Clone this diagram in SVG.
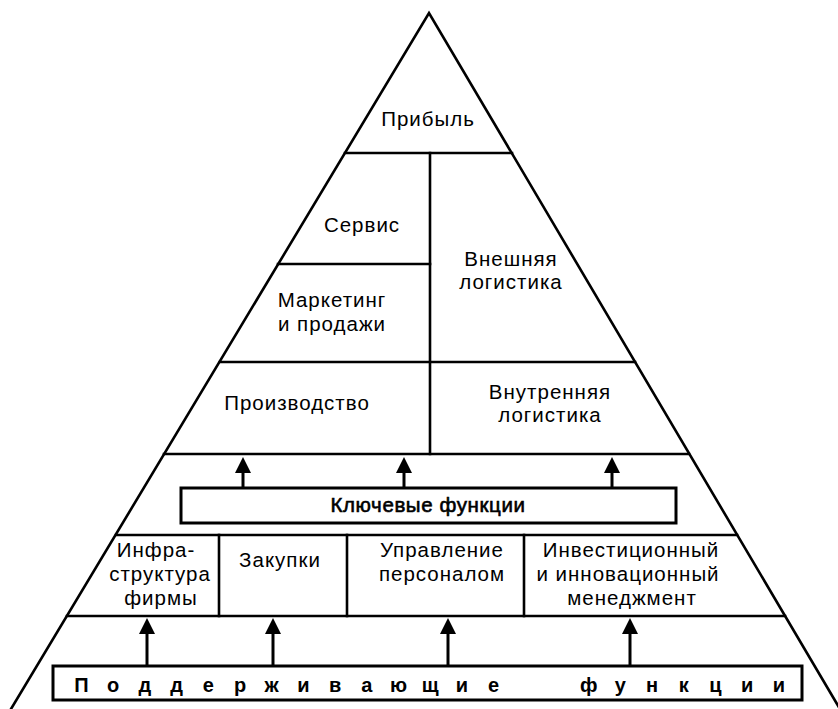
<svg xmlns="http://www.w3.org/2000/svg" width="838" height="709" viewBox="0 0 838 709">
<style>
.ln{stroke:#000;stroke-width:2.6;fill:none;stroke-linecap:square}
.bx{stroke:#000;stroke-width:3;fill:#fff}
.t{font-family:"Liberation Sans",Arial,sans-serif;font-size:20.5px;letter-spacing:1px;fill:#000;text-anchor:middle}
.tk{font-family:"Liberation Sans",Arial,sans-serif;font-size:20.5px;letter-spacing:0.6px;fill:#000;stroke:#000;stroke-width:0.6;text-anchor:middle}
.tb{font-family:"Liberation Sans",Arial,sans-serif;font-size:20px;font-weight:bold;fill:#000;text-anchor:middle}
.ar{stroke:#000;stroke-width:3;fill:none;marker-end:url(#ah)}
</style>
<defs>
<marker id="ah" viewBox="0 0 16 16" refX="0" refY="8" markerWidth="16" markerHeight="16" markerUnits="userSpaceOnUse" orient="auto">
<path d="M0,0 L16,8 L0,16 z" fill="#000"/>
</marker>
</defs>
<rect width="838" height="709" fill="#fff"/>
<g id="pyramid">
<path class="ln" d="M11,709 L429,13 L840,709"/>
<line class="ln" x1="345" y1="153" x2="512" y2="153"/>
<line class="ln" x1="278" y1="264" x2="430" y2="264"/>
<line class="ln" x1="220" y1="362" x2="635" y2="362"/>
<line class="ln" x1="164" y1="454" x2="689" y2="454"/>
<line class="ln" x1="116" y1="535" x2="737" y2="535"/>
<line class="ln" x1="67" y1="616" x2="785" y2="616"/>
<line class="ln" x1="430" y1="153" x2="430" y2="454"/>
<line class="ln" x1="219" y1="535" x2="219" y2="616"/>
<line class="ln" x1="347" y1="535" x2="347" y2="616"/>
<line class="ln" x1="524" y1="535" x2="524" y2="616"/>
</g>
<g id="profit"><text class="t" x="428" y="126">Прибыль</text></g>
<g id="service"><text class="t" x="362" y="232">Сервис</text></g>
<g id="marketing"><text class="t" x="332" y="307">Маркетинг</text><text class="t" x="332" y="331">и продажи</text></g>
<g id="outbound"><text class="t" x="511" y="266">Внешняя</text><text class="t" x="511" y="289">логистика</text></g>
<g id="production"><text class="t" x="297" y="410">Производство</text></g>
<g id="inbound"><text class="t" x="550" y="399">Внутренняя</text><text class="t" x="550" y="422">логистика</text></g>
<g id="key"><rect class="bx" x="181" y="488" width="495" height="35"/><text class="tk" x="428" y="512">Ключевые функции</text></g>
<g id="infra"><text class="t" x="156" y="557">Инфра-</text><text class="t" x="160" y="581">структура</text><text class="t" x="161" y="605">фирмы</text></g>
<g id="procure"><text class="t" x="280" y="567">Закупки</text></g>
<g id="hr"><text class="t" x="442" y="557">Управление</text><text class="t" x="442" y="581">персоналом</text></g>
<g id="invest"><text class="t" x="631" y="557">Инвестиционный</text><text class="t" x="628" y="581">и инновационный</text><text class="t" x="632" y="605">менеджмент</text></g>
<g id="support"><rect class="bx" x="53" y="666" width="749" height="34"/><text class="tb" y="692" x="81.5 113.2 144.9 176.6 208.3 240 271.7 303.4 335.1 366.8 398.5 430.2 461.9 493.6 541 588.7 620.4 652.1 683.8 715.5 747.2 778.9">Поддерживающие функции</text></g>
<g id="connectors">
<line class="ar" x1="243" y1="488" x2="243" y2="473"/>
<line class="ar" x1="404" y1="488" x2="404" y2="473"/>
<line class="ar" x1="612" y1="488" x2="612" y2="473"/>
<line class="ar" x1="147" y1="666" x2="147" y2="634"/>
<line class="ar" x1="273" y1="666" x2="273" y2="634"/>
<line class="ar" x1="448" y1="666" x2="448" y2="634"/>
<line class="ar" x1="630" y1="666" x2="630" y2="634"/>
</g>
</svg>
